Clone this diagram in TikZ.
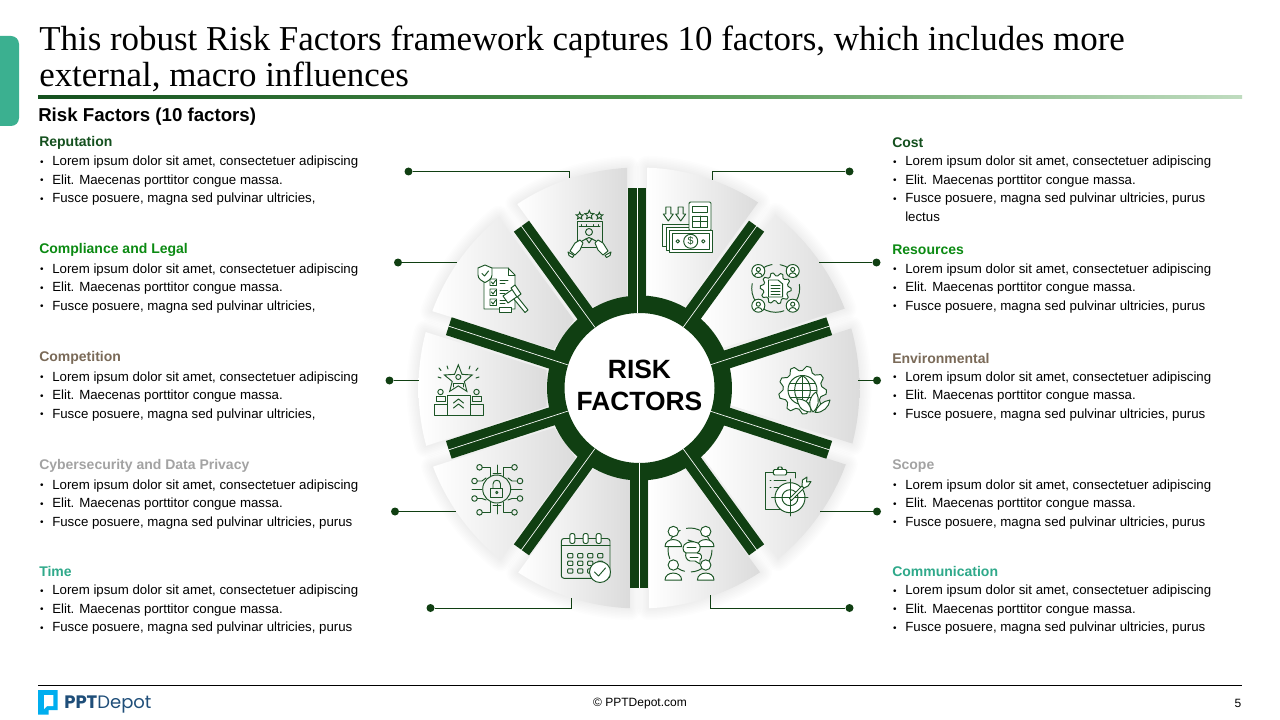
\documentclass[tikz,border=0pt]{standalone}
\usepackage{fontspec}
\setmainfont{Liberation Sans}
\newfontfamily\titlefont{Liberation Serif}
\newfontfamily\logofont{Poppins}
\usetikzlibrary{shapes.geometric}
\definecolor{ringgreen}{HTML}{103F12}
\definecolor{iconline}{HTML}{1C5526}
\definecolor{headA}{HTML}{14501E}
\definecolor{headB}{HTML}{0B8A12}
\definecolor{headC}{HTML}{7A6A58}
\definecolor{headD}{HTML}{A3A3A3}
\definecolor{headE}{HTML}{2FA98A}
\definecolor{tabteal}{HTML}{3BB090}
\definecolor{logocyan}{HTML}{00AEEF}
\definecolor{logoblue}{HTML}{1F4E79}
\tikzset{
  headtext/.style={anchor=west, inner sep=0pt, font=\fontsize{10.5}{12}\selectfont\bfseries},
  bodytext/.style={anchor=north west, inner sep=0pt, align=left, text=black, font=\fontsize{9.95}{13.9}\selectfont},
  leader/.style={draw=ringgreen, line width=0.75pt},
  leaderdot/.style={circle, fill=ringgreen, inner sep=0pt, minimum size=6pt},
  spoke/.style={draw=ringgreen, line width=14pt},
  spokeline/.style={draw=white, line width=0.5pt},
  icon/.style={draw=iconline, line width=0.72pt, line join=round, line cap=round},
  iconfill/.style={icon, fill=white},
  iconstar/.style={star, star points=5, star point ratio=2.2, inner sep=0pt, draw=iconline, line width=0.7pt, minimum size=#1}
}
\newcommand{\bl}[1]{\makebox[9.75pt][l]{\hspace*{0.6pt}\raisebox{0.5pt}{\fontsize{7.5}{8}\selectfont\textbullet}}#1}
\newcommand{\riskfactor}[6]{%
  \node[headtext, text=#4] (#1head) at (#2,{#3+0.5}) {#5};
  \node[bodytext] (#1body) at (#2,{#3+14}) {\bl{Lorem ipsum dolor sit amet, consectetuer adipiscing}\\
    \bl{Elit. Maecenas porttitor congue massa.}\\ \bl{#6}};}
\newcommand{\segpath}[6]{(#1,#2) -- plot[domain=#3:#4, samples=18] ({639+220.5*cos(\x)},{388+220.5*sin(\x)}) -- (#5,#6) -- cycle}
\newcommand{\gearpath}[5]{plot[domain=0:360, samples=#5*4+1] ({#1+(#3+#4)/2*cos(\x)+(#4-#3)/2*sign(sin(#5*\x+45))*cos(\x)},{#2+(#3+#4)/2*sin(\x)+(#4-#3)/2*sign(sin(#5*\x+45))*sin(\x)}) -- cycle}
\newcommand{\person}[3]{%
  \draw[iconfill] (#1,#2) circle[radius=#3];
  \draw[iconfill] ({#1-1.6*#3},{#2+2.9*#3}) .. controls ({#1-1.6*#3},{#2+1.1*#3}) and ({#1+1.6*#3},{#2+1.1*#3}) .. ({#1+1.6*#3},{#2+2.9*#3}) -- cycle;}

\begin{document}
\begin{tikzpicture}[x=0.75pt, y=-0.75pt]
  \useasboundingbox (0,0) rectangle (1280,720);
  \fill[white] (0,0) rectangle (1280,720);

  % header
  \fill[tabteal, rounded corners=6pt] (-12,36) rectangle (19,126);
  \node[anchor=north west, inner sep=0pt, align=left, font=\fontsize{26.2}{27}\selectfont\titlefont] (title) at (39,26)
    {This robust Risk Factors framework captures 10 factors, which includes more\\ external, macro influences};
  \shade[left color=headA, right color=green!45!black!25!white, middle color=green!40!black!70!white] (38,95.5) rectangle (1242,99);
  \node[anchor=west, inner sep=0pt, font=\fontsize{14}{16}\selectfont\bfseries] (subtitle) at (38,116.5) {Risk Factors (10 factors)};

  % left and right text
  \riskfactor{rep}{39}{142}{headA}{Reputation}{Fusce posuere, magna sed pulvinar ultricies,}
  \riskfactor{com}{39}{249.5}{headB}{Compliance and Legal}{Fusce posuere, magna sed pulvinar ultricies,}
  \riskfactor{cpt}{39}{357.5}{headC}{Competition}{Fusce posuere, magna sed pulvinar ultricies,}
  \riskfactor{cyb}{39}{465.5}{headD}{Cybersecurity and Data Privacy}{Fusce posuere, magna sed pulvinar ultricies, purus}
  \riskfactor{tim}{39}{571}{headE}{Time}{Fusce posuere, magna sed pulvinar ultricies, purus}
  \riskfactor{cos}{892}{142}{headA}{Cost}{Fusce posuere, magna sed pulvinar ultricies, purus\\ \hspace*{9.75pt}lectus}
  \riskfactor{res}{892}{249.5}{headB}{Resources}{Fusce posuere, magna sed pulvinar ultricies, purus}
  \riskfactor{env}{892}{357.5}{headC}{Environmental}{Fusce posuere, magna sed pulvinar ultricies, purus}
  \riskfactor{sco}{892}{465.5}{headD}{Scope}{Fusce posuere, magna sed pulvinar ultricies, purus}
  \riskfactor{cmm}{892}{571}{headE}{Communication}{Fusce posuere, magna sed pulvinar ultricies, purus}

  % wheel
  \def\seglist{591.7/306.7/-123.5/-93.1/627/295.7, 647.3/295/-87.8/-57.3/683.3/305.7,
    700.7/318.3/-51.7/-21.1/721.7/348.3, 730/367.3/-15.7/14.6/730/405,
    723.3/425/20.3/50.9/702.3/455.7, 684.3/469/56.7/87.4/649/480,
    629.3/480/92.5/123.2/593.3/469.3, 575.7/457.7/128.9/159.1/554/427.7,
    546.7/406.7/164.8/194.7/546.7/370, 553.3/349.3/200.4/230.6/574/320}
  \foreach \ax/\ay/\sa/\ea/\bx/\by in \seglist
    \foreach \w in {3,6,...,24}
      \draw[black, opacity=0.008, line width=\w*0.75pt, line join=round] \segpath{\ax}{\ay}{\sa}{\ea}{\bx}{\by};
  \foreach \ax/\ay/\sa/\ea/\bx/\by in \seglist
    \shade[left color=white, middle color=black!1.5, right color=black!14] \segpath{\ax}{\ay}{\sa}{\ea}{\bx}{\by};
  \node[circle, draw=ringgreen, fill=white, line width=13.1pt, minimum size=125.6pt, inner sep=0pt] (hub) at (639.5,388) {};
  \foreach \sx/\ang in {637/-90,639/-54,639/-18,639/18,639/54,639/90,639/126,639/162,639/198,639/234} {
    \draw[spoke] ({\sx+82*cos(\ang)},{388+82*sin(\ang)}) -- ({\sx+200*cos(\ang)},{388+200*sin(\ang)});
    \draw[spokeline] ({\sx+75*cos(\ang)},{388+75*sin(\ang)}) -- ({\sx+200*cos(\ang)},{388+200*sin(\ang)});
  }
  \node[inner sep=0pt, align=center, font=\fontsize{19.8}{24}\selectfont\bfseries] (hubtext) at (639.5,385) {RISK\\FACTORS};

  % leaders
  \node[leaderdot] (dotrep) at (408.5,171.5) {};
  \coordinate (endrep) at (569.5,178);
  \draw[leader] (dotrep) -| (endrep);
  \node[leaderdot] (dotcom) at (398,262.5) {};
  \coordinate (endcom) at (457,262.5);
  \draw[leader] (dotcom) -- (endcom);
  \node[leaderdot] (dotcpt) at (389.5,380.5) {};
  \coordinate (endcpt) at (419,380.5);
  \draw[leader] (dotcpt) -- (endcpt);
  \node[leaderdot] (dotcyb) at (395,511.5) {};
  \coordinate (endcyb) at (456,511.5);
  \draw[leader] (dotcyb) -- (endcyb);
  \node[leaderdot] (dottim) at (430.5,608) {};
  \coordinate (endtim) at (571.5,598);
  \draw[leader] (dottim) -| (endtim);
  \node[leaderdot] (dotcos) at (849.5,171.5) {};
  \coordinate (endcos) at (712.5,180);
  \draw[leader] (dotcos) -| (endcos);
  \node[leaderdot] (dotres) at (876.5,262.5) {};
  \coordinate (endres) at (819,262.5);
  \draw[leader] (dotres) -- (endres);
  \node[leaderdot] (dotenv) at (877,380.5) {};
  \coordinate (endenv) at (858,380.5);
  \draw[leader] (dotenv) -- (endenv);
  \node[leaderdot] (dotsco) at (877,511.5) {};
  \coordinate (endsco) at (820,511.5);
  \draw[leader] (dotsco) -- (endsco);
  \node[leaderdot] (dotcmm) at (849.5,608) {};
  \coordinate (endcmm) at (710.5,595);
  \draw[leader] (dotcmm) -| (endcmm);

  % icon reputation
  \node[iconstar=5.5pt] (repstarA) at (579.7,216) {};
  \node[iconstar=7pt] (repstarB) at (589.3,215) {};
  \node[iconstar=5.5pt] (repstarC) at (599.3,216) {};
  \draw[icon] (577,221.5) rectangle (602.5,247.5);
  \draw[icon] (579,226.5) -- (600,226.5) (581,224.5) -- (581,226) (586,224.5) -- (586,226) (593,224.5) -- (593,226) (598,224.5) -- (598,226);
  \draw[icon] (589,232) circle[radius=3.5];
  \draw[icon] (581,247) -- (582,241) -- (589,237.5) -- (596,241) -- (597,247) (586,238.5) -- (589,243) -- (592,238.5);
  \draw[iconfill] (570,251) -- (575,243) -- (580,240) -- (583,243) -- (580,250) -- (575,255) -- cycle;
  \draw[iconfill] (608,251) -- (603,243) -- (598,240) -- (595,243) -- (598,250) -- (603,255) -- cycle;
  \draw[iconfill] (568,252) -- (574,255.5) -- (572.5,257.5) -- (569,255.5) -- cycle;
  \draw[iconfill] (611,252) -- (605,255.5) -- (606.5,257.5) -- (610,255.5) -- cycle;

  % icon compliance
  \draw[iconfill] (484,268) -- (508,268) -- (515,275) -- (515,309) -- (484,309) -- cycle;
  \draw[icon] (508,268) -- (508,275) -- (515,275);
  \draw[iconfill] (478,268) -- (485,265) -- (492,268) -- (492,275) .. controls (492,279) and (488,281) .. (485,282.5) .. controls (482,281) and (478,279) .. (478,275) -- cycle;
  \draw[icon] (482,273.5) -- (484.5,276) -- (488.5,271);
  \foreach \cy in {279,289,299} {
    \draw[icon] (490,\cy) rectangle (496.5,{\cy+6.5}) (491.5,{\cy+3}) -- (493,{\cy+5}) -- (495.5,{\cy+1.5});
    \draw[icon] (500,{\cy+1}) -- (508,{\cy+1}) (500,{\cy+4.5}) -- (505,{\cy+4.5});
  }
  \draw[iconfill] (499,307) rectangle (511,312);
  \draw[iconfill] (513,298) -- (516,295) -- (528,310) -- (525,312.5) -- cycle;
  \draw[iconfill] (503,296) -- (513,289) -- (518,296) -- (508,303) -- cycle;
  \draw[iconfill] (511,288) -- (515,285) -- (521,294) -- (517,297) -- cycle;

  % icon competition
  \node[iconstar=22pt, star point ratio=2.3] (cptstar) at (458.3,379.5) {};
  \draw[icon] (458.3,377) circle[radius=2.5];
  \draw[icon] (453.5,387) -- (453.5,383) -- (463,383) -- (463,387);
  \draw[icon] (439,368) -- (441,370.5) (478,368) -- (476,370.5) (447,366) -- (448,369) (470,366) -- (469,369) (438,377) -- (441,378) (479,377) -- (476,378);
  \draw[icon] (447.7,395) rectangle (470,415);
  \draw[icon] (434,404) rectangle (447.7,415) (470,404) rectangle (483.3,415);
  \draw[icon] (440.5,392) circle[radius=2.7] (476.5,392) circle[radius=2.7];
  \draw[icon] (436.5,401) -- (436.5,396.5) -- (445,396.5) -- (445,401) -- cycle (472.5,401) -- (472.5,396.5) -- (481,396.5) -- (481,401) -- cycle;
  \draw[icon] (453.5,403) -- (458.5,399) -- (463.5,403) (453.5,408) -- (458.5,404) -- (463.5,408);

  % icon cybersecurity
  \draw[icon] (496.7,489) circle[radius=14];
  \draw[icon] (490.8,488.5) rectangle (502.8,497.5);
  \draw[icon] (493,488.5) -- (493,484) .. controls (493,479) and (500.5,479) .. (500.5,484) -- (500.5,488.5);
  \draw[icon] (496.8,492.5) circle[radius=1.2];
  \foreach \ex/\ey/\mx/\my/\tx/\ty in {479.5/467.3/490/467.3/490/476.5, 514.5/467.3/503/467.3/503/476.5,
    479.5/512.3/490/512.3/490/502, 514.5/512.3/503/512.3/503/502,
    474.5/481/482/481/486/478, 520/481/512/481/508/478, 474.5/498.5/482/498.5/486/500, 520/498.5/512/498.5/508/500} {
    \draw[icon] (\ex,\ey) circle[radius=2.8];
    \draw[icon] ({\ex+(\mx-\ex)/abs(\mx-\ex)*2.8},\ey) -- (\mx,\my) -- (\tx,\ty);
  }
  \draw[icon] (497,465) -- (497,474) (493,473) -- (501,473) (497,504) -- (497,514) (493,505) -- (501,505);
  \draw[icon] (472,489) -- (482,489) (511,489) -- (522,489);

  % icon time
  \draw[icon, rounded corners=2pt] (561.3,538.5) rectangle (610,578.3);
  \draw[icon] (561.3,545.5) -- (610,545.5);
  \foreach \rx in {572.3,585.7,598.7}
    \draw[iconfill, rounded corners=1.5pt] ({\rx-2.5},533.5) rectangle ({\rx+2.5},543.5);
  \foreach \gx in {570.3,580.3,590.3,600.3}
    \foreach \gy in {555.7,563.3,571}
      \draw[icon, rounded corners=0.6pt] ({\gx-2.6},{\gy-2.2}) rectangle ({\gx+2.6},{\gy+2.2});
  \draw[iconfill] (600,572) circle[radius=10.5];
  \draw[icon] (594.5,572) -- (598.5,576) -- (605.5,568);

  % icon cost
  \draw[icon] (662.5,224) -- (689,224) (662.5,224) -- (662.5,246) -- (666,246);
  \draw[iconfill] (666,227) -- (689,227) -- (689,231) -- (669,231) -- (669,250) -- (666,250) -- cycle;
  \draw[iconfill, rounded corners=1pt] (689,202) rectangle (711,231);
  \draw[icon] (692.5,206) rectangle (707.7,212);
  \draw[icon] (692.5,216) rectangle (707.7,227.3) (700,216) -- (700,227.3) (692.5,221.5) -- (707.7,221.5);
  \draw[iconfill] (669,230.5) rectangle (712.7,252.7);
  \draw[icon] (672.5,233.5) rectangle (709.3,249.7);
  \draw[icon] (690.7,241.3) circle[radius=7] (677.7,241.3) circle[radius=1.7] (703.3,241.3) circle[radius=1.7];
  \node[inner sep=0pt, text=iconline, font=\fontsize{8}{8}\selectfont] (cosdollar) at (690.7,241.3) {\$};
  \foreach \ax in {668.3,680.7}
    \draw[icon] ({\ax-2.5},207) -- ({\ax+2.5},207) -- ({\ax+2.5},214) -- ({\ax+5},214) -- (\ax,221) -- ({\ax-5},214) -- ({\ax-2.5},214) -- cycle;

  % icon resources
  \draw[icon, dash pattern=on 16pt off 6pt] (775.7,288.3) circle[radius=24];
  \draw[iconfill] \gearpath{775.7}{288.3}{12.5}{15.5}{10};
  \draw[iconfill] (768.5,280) -- (778,280) -- (782.7,284) -- (782.7,297) -- (768.5,297) -- cycle;
  \draw[icon] (771,285) -- (780,285) (771,288) -- (780,288) (771,291) -- (780,291) (771,294) -- (780,294);
  \foreach \px/\py in {758.3/271,792.7/271,758.3/305.7,792.7/305.7} {
    \draw[iconfill] (\px,\py) circle[radius=6.5];
    \draw[icon] (\px,{\py-1.5}) circle[radius=2.1] ({\px-3.7},{\py+4.5}) .. controls ({\px-3},{\py+1}) and ({\px+3},{\py+1}) .. ({\px+3.7},{\py+4.5});
  }

  % icon environmental
  \draw[iconfill] \gearpath{802.5}{390}{19.5}{24}{9};
  \draw[icon] (802.5,390) circle[radius=14.5];
  \draw[icon] (788,390) -- (817,390) (790,383) -- (815,383) (790,397) -- (815,397) (802.5,375.5) -- (802.5,404.5);
  \draw[icon] (802.5,375.5) .. controls (792,382) and (792,398) .. (802.5,404.5) (802.5,375.5) .. controls (813,382) and (813,398) .. (802.5,404.5);
  \draw[iconfill] (811,412) .. controls (800,412) and (798,404) .. (797,399) .. controls (806,399) and (811,404) .. (811,412) -- cycle;
  \draw[iconfill] (813,412) .. controls (807,405) and (810,396) .. (816,392) .. controls (820,399) and (819,407) .. (813,412) -- cycle;
  \draw[iconfill] (815,412.5) .. controls (817,406) and (823,401) .. (830,400) .. controls (829,407) and (823,413) .. (815,412.5) -- cycle;

  % icon scope
  \draw[icon] (773,472) -- (765,472) -- (765,509) -- (783,509) (787,472) -- (795.7,472) -- (795.7,478);
  \draw[iconfill, rounded corners=1pt] (773.3,469.5) rectangle (786.7,475);
  \draw[iconfill, rounded corners=1pt] (777.5,467) rectangle (782.5,469.5);
  \draw[icon] (770,480) -- (771,480) (774,480) -- (786,480) (770,487.7) -- (771,487.7) (774,487.7) -- (783,487.7);
  \draw[iconfill] (790,497.7) circle[radius=15];
  \draw[icon] (790,497.7) circle[radius=8];
  \draw[icon] (771.7,497.7) -- (808,497.7) (790,479) -- (790,516);
  \draw[iconfill] (789.5,498.5) -- (802,486) -- (804,488) -- (791.5,500.5) -- cycle;
  \draw[iconfill] (802,486) -- (802.5,480) -- (807,477) -- (806.5,482) -- (811,481.5) -- (808,486) -- (804,488) -- cycle;

  % icon communication
  \draw[icon, dash pattern=on 10pt off 5pt] (690,550) circle[radius=22];
  \person{673.3}{531.5}{5.2}
  \person{705.7}{531.5}{5.2}
  \person{673.3}{565}{5.2}
  \person{705.7}{565}{5.2}
  \draw[iconfill] (683,548) .. controls (683,543) and (690,541) .. (694,542) -- (688,540) -- (698,543) .. controls (701,545) and (701,551) .. (697,553) -- (686,553) .. controls (684,552) and (683,551) .. cycle;
  \draw[iconfill] (686,553) -- (697,553) .. controls (702,553) and (703,558) .. (700,560) -- (700,564) -- (695,561) -- (690,561) .. controls (686,560) and (685,556) .. (686,553) -- cycle;
  \draw[icon] (687,547.5) -- (696,547.5) (690,557) -- (698,557);

  % footer
  \draw[black, line width=0.9pt] (38,685.5) -- (1242,685.5);
  \fill[logocyan] (38,690) -- (57.7,690) -- (57.7,710) -- (48.5,710) -- (48.5,714.5) -- (38,714.5) -- cycle;
  \fill[white] (44,695) -- (53.3,695) -- (53.3,706) -- (47,706) -- (44,709) -- cycle;
  \node[anchor=west, inner sep=0pt, text=logoblue, font=\fontsize{13.5}{15}\selectfont\logofont] (logo) at (64,704.5) {\textbf{PPT}Depot};
  \node[inner sep=0pt, font=\fontsize{9}{11}\selectfont] (copy) at (640,703.5) {© PPTDepot.com};
  \node[inner sep=0pt, font=\fontsize{9}{11}\selectfont] (pagenum) at (1238,703) {5};
\end{tikzpicture}
\end{document}
